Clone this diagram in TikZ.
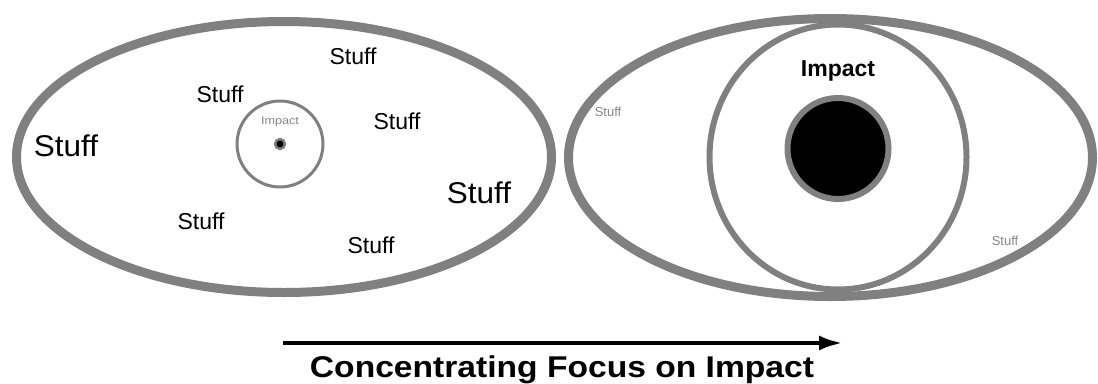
\documentclass[tikz,border=0pt]{standalone}
\usepackage{fontspec}
\setmainfont{Liberation Sans}
\usetikzlibrary{arrows.meta}
\definecolor{ring}{RGB}{128,128,128}
\definecolor{faintgray}{RGB}{135,135,135}
\tikzset{
  x=1pt, y=-1pt,
  outer/.style={draw=ring, line width=9pt},
  inner/.style={draw=ring, line width=6pt},
  stuff/.style={font=\fontsize{23}{23}\selectfont, inner sep=0pt},
  bigstuff/.style={font=\fontsize{30}{30}\selectfont, inner sep=0pt, xscale=1.05},
  faint/.style={font=\fontsize{13}{13}\selectfont, text=faintgray, inner sep=0pt},
}
\begin{document}
\begin{tikzpicture}
\useasboundingbox (0,0) rectangle (1098,383);
% left ellipse
\draw[outer] (284,157) ellipse [x radius=267.5, y radius=135.5];
\draw[draw=ring, line width=3pt] (280,144) circle [radius=43];
\draw[draw=ring, line width=2.5pt, fill=black] (280,144) circle [radius=5];
\node[faint, font=\fontsize{11}{11}\selectfont, anchor=base, xscale=1.15] (limp) at (280,124) {Impact};
\node[stuff] (s1) at (353,56) {Stuff};
\node[stuff] (s2) at (220,94) {Stuff};
\node[stuff] (s3) at (397,121) {Stuff};
\node[bigstuff] (s4) at (66,146) {Stuff};
\node[bigstuff] (s5) at (479,193) {Stuff};
\node[stuff] (s6) at (201,221) {Stuff};
\node[stuff] (s7) at (371,245) {Stuff};
% right ellipse
\draw[outer] (830.5,157.5) ellipse [x radius=262, y radius=139];
\draw[inner] (838,157) ellipse [x radius=128.5, y radius=132.5];
\draw[inner, fill=black] (838,148.5) circle [radius=50.5];
\node[font=\bfseries\fontsize{23}{23}\selectfont, inner sep=0pt, anchor=base] (rimp) at (838,76) {Impact};
\node[faint] (r1) at (608,112) {Stuff};
\node[faint] (r2) at (1005,241) {Stuff};
% arrow and caption
\coordinate (a0) at (283,343);
\coordinate (a1) at (843,343);
\draw[line width=4.5pt, -{Latex[length=24pt,width=15pt]}] (a0) -- (a1);
\node[font=\bfseries\fontsize{30}{30}\selectfont, inner sep=0pt, anchor=base, xscale=1.12] (cap) at (562,377) {Concentrating Focus on Impact};
\end{tikzpicture}
\end{document}
